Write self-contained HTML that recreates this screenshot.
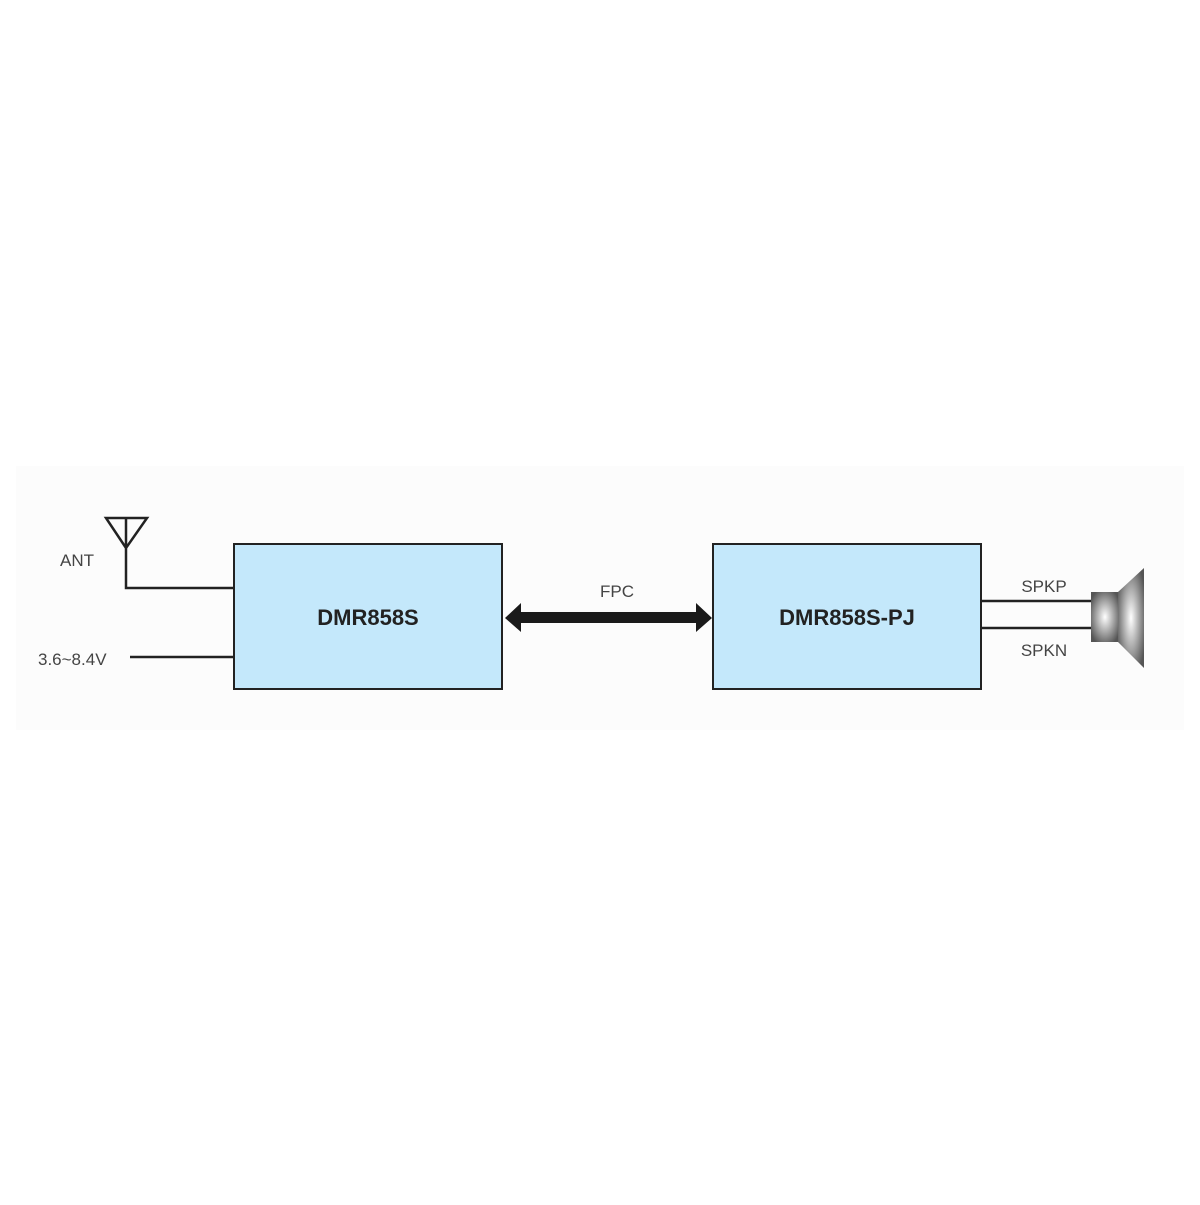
<!DOCTYPE html>
<html><head><style>body{margin:0;background:#fff}</style></head><body>
<svg width="1200" height="1200" xmlns="http://www.w3.org/2000/svg" font-family="'Liberation Sans',sans-serif">
<defs>
<radialGradient id="g1" cx="0.5" cy="0.5" r="0.6"><stop offset="0" stop-color="#fff"/><stop offset="1" stop-color="#555"/></radialGradient>
</defs>
<rect x="16" y="466" width="1168" height="264" fill="#fcfcfc"/>
<rect x="234" y="544" width="268" height="145" fill="#c4e8fb" stroke="#222" stroke-width="2"/>
<rect x="713" y="544" width="268" height="145" fill="#c4e8fb" stroke="#222" stroke-width="2"/>
<text x="368" y="625" font-size="22" font-weight="bold" fill="#222" text-anchor="middle">DMR858S</text>
<text x="847" y="625" font-size="22" font-weight="bold" fill="#222" text-anchor="middle">DMR858S-PJ</text>
<path d="M106 518 L147 518 L126 548 Z M126 518 L126 588 L234 588" fill="none" stroke="#222" stroke-width="2.5"/>
<text x="60" y="566" font-size="17" fill="#444">ANT</text>
<line x1="130" y1="657" x2="234" y2="657" stroke="#222" stroke-width="2.5"/>
<text x="38" y="665" font-size="17" fill="#444">3.6~8.4V</text>
<path d="M505 618 L521 603 L521 612 L696 612 L696 603 L712 618 L696 632 L696 623 L521 623 L521 632 Z" fill="#1a1a1a"/>
<text x="617" y="597" font-size="17" fill="#444" text-anchor="middle">FPC</text>
<line x1="982" y1="601" x2="1092" y2="601" stroke="#222" stroke-width="2.5"/>
<line x1="982" y1="628" x2="1092" y2="628" stroke="#222" stroke-width="2.5"/>
<text x="1044" y="592" font-size="17" fill="#444" text-anchor="middle">SPKP</text>
<text x="1044" y="656" font-size="17" fill="#444" text-anchor="middle">SPKN</text>
<rect x="1091" y="592" width="28" height="50" fill="url(#g1)"/>
<path d="M1118 592 L1144 568 L1144 668 L1118 642 Z" fill="url(#g1)"/>
</svg>
</body></html>
